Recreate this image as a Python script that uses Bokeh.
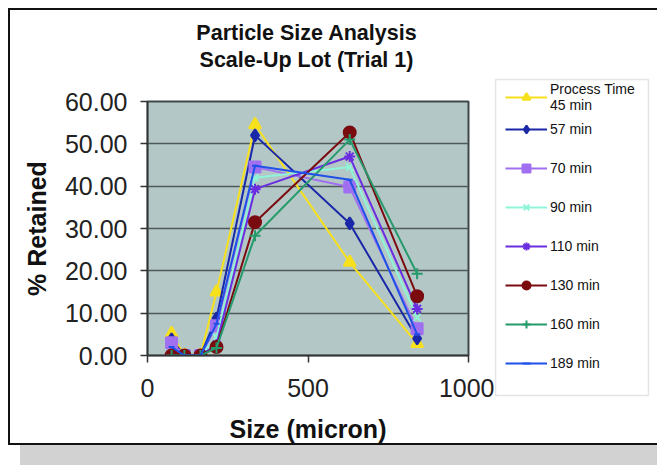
from bokeh.plotting import figure
from bokeh.layouts import row, column
from bokeh.models import (Legend, LegendItem, Div, BoxAnnotation, FixedTicker,
                          NumeralTickFormatter, Range1d)
from bokeh.embed import file_html
from bokeh.resources import INLINE

# ---- data ----
sizes = [75, 115, 165, 215, 335, 630, 840]
names = ["Process Time\n45 min", "57 min", "70 min", "90 min", "110 min",
         "130 min", "160 min", "189 min"]
t45 = [5.2, 0, 0, 15.0, 54.5, 22.0, 2.8]
t57 = [3.8, 0, 0, 8.8, 52.0, 31.2, 4.0]
t70 = [3.0, 0, 0, 7.0, 44.5, 39.8, 6.3]
t90 = [0.5, 0, 0, 4.3, 42.0, 44.5, 9.0]
t110 = [0.3, 0, 0, 2.6, 39.3, 47.0, 11.0]
t130 = [0.0, 0, 0, 2.0, 31.5, 52.7, 14.0]
t160 = [0.0, 0, 0, 1.8, 28.3, 51.0, 19.3]
t189 = [2.0, 0, 0, 7.5, 44.8, 41.5, 5.0]
y_ticks = [0, 10, 20, 30, 40, 50, 60]
x_ticks = [0, 500, 1000]
title_lines = ["Particle Size Analysis", "Scale-Up Lot (Trial 1)"]

series = [t45, t57, t70, t90, t110, t130, t160, t189]
colors = ["#f7e01c", "#1a28a8", "#a070f0", "#8ef5d8", "#6a2ee0",
          "#7a0c10", "#259a6c", "#1f50e8"]
markers = ["triangle", "diamond", "square", "x", "asterisk",
           "circle", "cross", "dash"]
msizes = [12, 12, 11, 10, 11, 12, 11, 6]

FONT = "Liberation Sans"
H_TITLE = 80
H = 357

# ---------------- title strip (over the chart only) ----------------
title_div = Div(text="<br>".join(title_lines), width=486, height=H_TITLE, margin=0,
                styles={"border-left": "2px solid #111",
                        "border-top": "2px solid #111",
                        "box-sizing": "border-box", "background": "white",
                        "text-align": "center", "font-family": FONT,
                        "font-weight": "bold", "font-size": "21.5px",
                        "line-height": "27px", "color": "#111111",
                        "padding-top": "10px", "padding-left": "109px"})

# ---------------- main chart ----------------
p = figure(width=486, height=H, x_range=(0, 1000), y_range=(0, 60),
           output_backend="svg", toolbar_location=None, title_location=None,
           min_border_left=137, min_border_right=28,
           min_border_top=13, min_border_bottom=88,
           background_fill_color="#b4c7c7", border_fill_color="white")
p.frame_align = False
p.styles = {"border-left": "2px solid #111",
            "border-bottom": "2px solid #111", "box-sizing": "border-box",
            "box-shadow": "6px 26px 0 -6px #d2d2d2"}
p.outline_line_color = "#3e4848"
p.outline_line_width = 2

p.xgrid.visible = False
p.ygrid.grid_line_color = "#4e5a5a"
p.ygrid.grid_line_width = 1.5

p.yaxis.ticker = FixedTicker(ticks=y_ticks)
p.xaxis.ticker = FixedTicker(ticks=x_ticks)
p.yaxis.formatter = NumeralTickFormatter(format="0.00")
for ax in (p.xaxis, p.yaxis):
    ax.minor_tick_line_color = None
    ax.major_tick_in = 0
    ax.major_tick_out = 7
    ax.major_tick_line_color = "#333333"
    ax.major_tick_line_width = 1.5
    ax.axis_line_color = "#333333"
    ax.axis_line_width = 1.5
    ax.major_label_text_font = FONT
    ax.major_label_text_font_size = "25px"
    ax.major_label_text_color = "#222222"
    ax.axis_label_text_font = FONT
    ax.axis_label_text_font_size = "25px"
    ax.axis_label_text_font_style = "bold"
    ax.axis_label_text_color = "#111111"
p.xaxis.axis_label = "Size (micron)"
p.yaxis.axis_label = "% Retained"
p.xaxis.major_label_standoff = 16
p.yaxis.major_label_standoff = 13
p.xaxis.axis_label_standoff = 15
p.yaxis.axis_label_standoff = 11

for ys, c, m, ms in zip(series, colors, markers, msizes):
    p.line(sizes, ys, line_color=c, line_width=2)
    p.scatter(sizes, ys, marker=m, size=ms, fill_color=c, line_color=c,
              line_width=2)

# ---------------- legend panel (full height) ----------------
pl = figure(width=163, height=H_TITLE + H, x_range=Range1d(0, 1),
            y_range=Range1d(0, 1),
            output_backend="svg", toolbar_location=None, title_location=None,
            x_axis_type=None, y_axis_type=None,
            min_border_left=0, min_border_right=0,
            min_border_top=0, min_border_bottom=0,
            background_fill_color="white", border_fill_color="white")
pl.frame_align = False
pl.styles = {"border-top": "2px solid #111", "border-bottom": "2px solid #111",
             "box-sizing": "border-box", "box-shadow": "0 20px 0 0 #d2d2d2"}
pl.outline_line_color = None
pl.grid.visible = False

items = []
for name, ys, c, m, ms in zip(names, series, colors, markers, msizes):
    r1 = pl.line(sizes, ys, line_color=c, line_width=2)
    r2 = pl.scatter(sizes, ys, marker=m, size=ms, fill_color=c, line_color=c,
                    line_width=2)
    items.append(LegendItem(label=name, renderers=[r1, r2]))

pl.add_layout(BoxAnnotation(left=1, right=154, top=368, bottom=52,
                            left_units="screen", right_units="screen",
                            top_units="screen", bottom_units="screen",
                            fill_color="white", fill_alpha=1,
                            line_color="#a8a8a8", line_width=1.5))

def make_legend(its, loc, spacing):
    return Legend(items=its, location=loc, spacing=spacing, padding=0, margin=0,
                  glyph_width=42, glyph_height=20, label_height=20,
                  label_standoff=3, label_text_font=FONT,
                  label_text_font_size="14px", label_text_color="#111111",
                  label_text_line_height=1.07,
                  border_line_alpha=0, background_fill_alpha=0)

pl.add_layout(make_legend(items[:1], (11, 334), 0), "center")
pl.add_layout(make_legend(items[1:], (11, 74), 19), "center")

layout = row(column(title_div, p, spacing=0), pl, spacing=0,
             styles={"margin-left": "8px", "margin-top": "8px"})

open("out.html", "w").write(file_html(layout, INLINE))
